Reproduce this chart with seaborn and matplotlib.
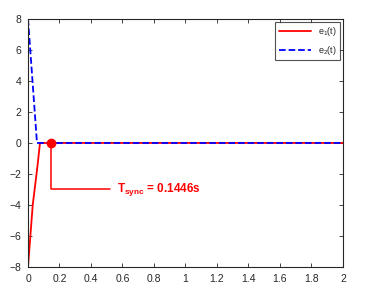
import numpy as np
import pandas as pd
import seaborn as sns
import matplotlib
matplotlib.use('Agg')
import matplotlib.pyplot as plt

# error trajectories
t_e1 = [0.0, 0.03, 0.06, 0.076, 0.1446, 2.0]
e1 = [-8.0, -4.0, -1.5, 0.0, 0.0, 0.0]
t_e2 = [0.0, 0.057, 0.1446, 2.0]
e2 = [8.0, 0.0, 0.0, 0.0]
t_sync = 0.1446
sync_label = r'T$_{\mathbf{sync}}$ = 0.1446s'

sns.set_style('white')
plt.rcParams['font.family'] = ['Liberation Sans', 'DejaVu Sans']
plt.rcParams['mathtext.fontset'] = 'custom'
plt.rcParams['mathtext.rm'] = 'Liberation Sans'
plt.rcParams['mathtext.bf'] = 'Liberation Sans:bold'

fig = plt.figure(figsize=(3.7, 2.96), dpi=100)
ax = fig.add_axes([0.0757, 0.098, 0.851, 0.838])

d1 = pd.DataFrame({'t': t_e1, 'e': e1})
d2 = pd.DataFrame({'t': t_e2, 'e': e2})
sns.lineplot(data=d1, x='t', y='e', ax=ax, color='#ff0000', lw=1.3, label='e$_1$(t)')
sns.lineplot(data=d2, x='t', y='e', ax=ax, color='#0000ff', lw=1.3, ls='--', label='e$_2$(t)')

# annotation of sync time
ax.plot([t_sync, t_sync, 0.52], [0, -3, -3], color='#ff0000', lw=1.1)
ax.plot([t_sync], [0], 'o', color='#ff0000', ms=6)
ax.text(0.565, -3, sync_label, color='#ff0000', fontsize=8.5, fontweight='bold', va='center', ha='left')

ax.set_xlim(0, 2)
ax.set_ylim(-8, 8)
ax.set_xticks(np.arange(0, 2.01, 0.2))
ax.set_xticklabels(['0', '0.2', '0.4', '0.6', '0.8', '1', '1.2', '1.4', '1.6', '1.8', '2'])
ax.set_yticks(np.arange(-8, 8.1, 2))
ax.set_xlabel('')
ax.set_ylabel('')
ax.tick_params(direction='in', length=3, width=0.6, labelsize=7.5, colors='#262626',
               top=True, right=True, bottom=True, left=True, pad=5)
for s in ax.spines.values():
    s.set_color('#262626')
    s.set_linewidth(0.8)

leg = ax.legend(loc='upper right', fontsize=6.5, frameon=True, fancybox=False,
                edgecolor='#262626', handlelength=3.5, borderpad=0.4, labelspacing=0.6,
                borderaxespad=0.3)
leg.get_frame().set_linewidth(0.8)

fig.savefig('out.png', dpi=100)
